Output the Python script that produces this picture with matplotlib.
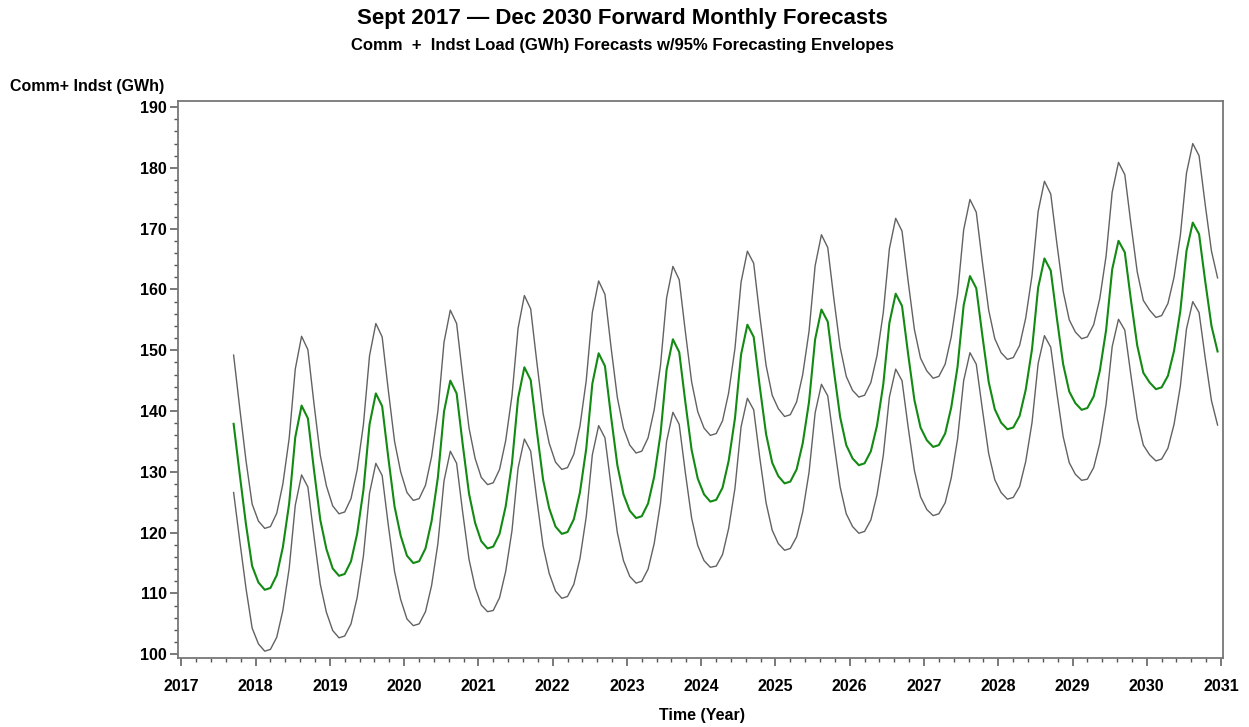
import numpy as np
import pandas as pd
import matplotlib
matplotlib.use("Agg")
import matplotlib.pyplot as plt
from matplotlib.ticker import MultipleLocator

# monthly forecast, Sept 2017 .. Dec 2030
forecast = [
    137.9, 129.6, 121.3, 114.5,
    111.8, 110.6, 110.9, 113.0, 117.6, 124.8, 135.7, 140.9, 138.8, 130.3, 122.1, 117.3,
    114.1, 112.9, 113.2, 115.3, 119.8, 127.0, 137.8, 142.9, 140.8, 132.4, 124.3, 119.5,
    116.2, 115.0, 115.3, 117.4, 121.9, 129.1, 139.9, 145.0, 142.9, 134.5, 126.4, 121.6,
    118.6, 117.4, 117.7, 119.8, 124.3, 131.4, 142.1, 147.2, 145.1, 136.8, 128.7, 124.0,
    121.0, 119.8, 120.1, 122.2, 126.6, 133.8, 144.5, 149.5, 147.4, 139.1, 131.1, 126.3,
    123.6, 122.4, 122.7, 124.8, 129.2, 136.2, 146.8, 151.8, 149.7, 141.5, 133.6, 128.9,
    126.3, 125.1, 125.4, 127.4, 131.8, 138.8, 149.3, 154.2, 152.2, 144.0, 136.2, 131.5,
    129.3, 128.1, 128.4, 130.4, 134.7, 141.5, 151.8, 156.7, 154.7, 146.7, 139.0, 134.4,
    132.2, 131.1, 131.4, 133.4, 137.6, 144.4, 154.5, 159.3, 157.3, 149.4, 141.8, 137.3,
    135.2, 134.1, 134.4, 136.3, 140.6, 147.3, 157.4, 162.2, 160.2, 152.4, 144.8, 140.3,
    138.1, 137.0, 137.3, 139.2, 143.5, 150.2, 160.3, 165.1, 163.1, 155.3, 147.7, 143.2,
    141.3, 140.2, 140.5, 142.4, 146.6, 153.3, 163.3, 168.0, 166.1, 158.3, 150.8, 146.3,
    144.7, 143.6, 143.9, 145.8, 149.9, 156.5, 166.3, 171.0, 169.1, 161.4, 154.0, 149.8,
]

upper = [
    149.2, 140.5, 131.8, 124.7,
    121.9, 120.7, 121.0, 123.2, 128.0, 135.5, 146.9, 152.3, 150.1, 141.2, 132.7, 127.7,
    124.4, 123.1, 123.4, 125.6, 130.3, 137.8, 149.1, 154.4, 152.2, 143.5, 135.0, 130.0,
    126.6, 125.3, 125.6, 127.8, 132.5, 140.0, 151.3, 156.6, 154.4, 145.7, 137.2, 132.2,
    129.1, 127.9, 128.2, 130.4, 135.1, 142.5, 153.6, 159.0, 156.8, 148.1, 139.6, 134.7,
    131.6, 130.4, 130.7, 132.9, 137.5, 145.0, 156.2, 161.4, 159.2, 150.5, 142.2, 137.2,
    134.4, 133.1, 133.4, 135.6, 140.2, 147.5, 158.6, 163.8, 161.6, 153.1, 144.8, 139.9,
    137.2, 136.0, 136.3, 138.4, 143.0, 150.3, 161.2, 166.3, 164.3, 155.7, 147.5, 142.6,
    140.4, 139.1, 139.4, 141.5, 146.0, 153.1, 163.9, 169.0, 166.9, 158.5, 150.5, 145.7,
    143.4, 142.3, 142.6, 144.7, 149.1, 156.2, 166.7, 171.7, 169.6, 161.4, 153.4, 148.7,
    146.6, 145.4, 145.7, 147.7, 152.2, 159.2, 169.8, 174.8, 172.7, 164.5, 156.6, 151.9,
    149.6, 148.5, 148.8, 150.8, 155.3, 162.3, 172.8, 177.8, 175.7, 167.6, 159.7, 155.0,
    153.0, 151.9, 152.2, 154.2, 158.5, 165.5, 176.0, 180.9, 178.9, 170.8, 162.9, 158.2,
    156.6, 155.4, 155.7, 157.7, 162.0, 168.9, 179.1, 184.0, 182.0, 174.0, 166.3, 161.9,
]

lower = [
    126.6, 118.7, 110.8, 104.3,
    101.7, 100.5, 100.8, 102.8, 107.2, 114.1, 124.5, 129.5, 127.5, 119.4, 111.5, 106.9,
    103.9, 102.7, 103.0, 105.0, 109.3, 116.2, 126.5, 131.4, 129.4, 121.3, 113.6, 109.0,
    105.8, 104.7, 105.0, 107.0, 111.3, 118.2, 128.5, 133.4, 131.4, 123.3, 115.6, 111.0,
    108.1, 107.0, 107.2, 109.3, 113.6, 120.3, 130.6, 135.4, 133.4, 125.5, 117.8, 113.3,
    110.4, 109.2, 109.5, 111.5, 115.7, 122.6, 132.8, 137.6, 135.6, 127.7, 120.0, 115.4,
    112.8, 111.7, 112.0, 114.0, 118.2, 124.9, 135.0, 139.8, 137.8, 129.9, 122.4, 117.9,
    115.4, 114.3, 114.5, 116.4, 120.7, 127.3, 137.4, 142.1, 140.2, 132.3, 124.9, 120.4,
    118.2, 117.1, 117.4, 119.3, 123.4, 129.9, 139.7, 144.4, 142.5, 134.9, 127.5, 123.1,
    121.0, 119.9, 120.2, 122.1, 126.2, 132.7, 142.3, 146.9, 145.0, 137.4, 130.2, 125.9,
    123.8, 122.8, 123.1, 124.9, 129.0, 135.4, 145.0, 149.6, 147.7, 140.3, 133.0, 128.7,
    126.6, 125.5, 125.8, 127.6, 131.7, 138.1, 147.8, 152.4, 150.5, 143.0, 135.8, 131.5,
    129.6, 128.6, 128.8, 130.7, 134.7, 141.1, 150.6, 155.1, 153.3, 145.9, 138.7, 134.4,
    132.8, 131.8, 132.1, 133.9, 137.8, 144.1, 153.5, 158.0, 156.2, 148.8, 141.7, 137.7,
]

year_ticks = list(range(2017, 2032))
y_ticks = list(range(100, 200, 10))

# mid-month dates as decimal years
dates = pd.date_range("2017-09-01", "2030-12-01", freq="MS") + pd.Timedelta(days=14)
t = dates.year + (dates.dayofyear - 1) / 365.0

plt.rcParams['font.family'] = ['Liberation Sans Narrow', 'Liberation Sans', 'DejaVu Sans']

fig = plt.figure(figsize=(12.49, 7.27), dpi=100)
ax = fig.add_axes([0.1428, 0.0949, 0.8366, 0.7666])

ax.plot(t, upper, color="#626262", lw=1.0)
ax.plot(t, lower, color="#626262", lw=1.0)
ax.plot(t, forecast, color="#138a13", lw=1.5)

ax.set_xlim(2016.96, 2031.03)
ax.set_ylim(99.38, 191.05)
ax.set_xticks(year_ticks)
ax.set_xticklabels([str(y) for y in year_ticks])
ax.set_yticks(y_ticks)
ax.xaxis.set_minor_locator(MultipleLocator(0.2))
ax.yaxis.set_minor_locator(MultipleLocator(2))

ax.tick_params(which="major", direction="out", length=6, width=1.1, color="#555555",
               labelsize=11.5)
ax.tick_params(which="minor", direction="out", length=3, width=1.0, color="#555555")
ax.tick_params(axis="x", pad=9)
ax.tick_params(axis="y", pad=2)
for lbl in ax.get_xticklabels() + ax.get_yticklabels():
    lbl.set_fontweight("bold")

for s in ax.spines.values():
    s.set_color("#777777")
    s.set_linewidth(1.3)

fig.text(0.498, 0.975, "Sept 2017 \u2014 Dec 2030 Forward Monthly Forecasts",
         ha="center", va="center", fontsize=16, fontweight="bold")
fig.text(0.498, 0.938, "Comm  +  Indst Load (GWh) Forecasts w/95% Forecasting Envelopes",
         ha="center", va="center", fontsize=12, fontweight="bold")
fig.text(0.008, 0.881, "Comm+ Indst (GWh)", ha="left", va="center",
         fontsize=11.5, fontweight="bold")
fig.text(0.562, 0.0165, "Time (Year)", ha="center", va="center",
         fontsize=11.5, fontweight="bold")

fig.savefig("out.png", dpi=100)
